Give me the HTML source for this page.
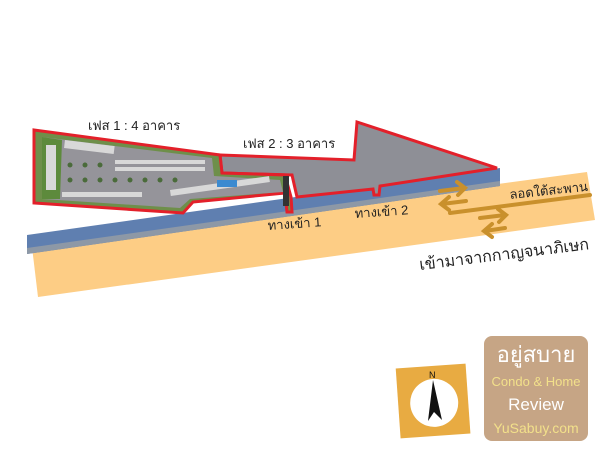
<!DOCTYPE html>
<html><head><meta charset="utf-8"><style>
html,body{margin:0;padding:0;background:#fff;}
svg{display:block;}
text{font-family:"Liberation Sans","Noto Sans CJK SC",sans-serif;}
</style></head><body>
<svg width="600" height="450" viewBox="0 0 600 450" xmlns="http://www.w3.org/2000/svg">
<polygon points="32,247 587,172 595,220 38,297" fill="#fdcd85"/>
<polygon points="27,235 500,168 500,186 27,254" fill="#5f7fb0"/>
<polygon points="27,248 500,181 500,186 27,254" fill="#8d98a6"/>
<polygon points="220,155 354,160 357,122 497,168 380,186 379,195 374,195 373,189 297,197 292,175 222,173" fill="#8e8f96" stroke="#e3202a" stroke-width="3"/>
<polygon points="34,130 220,155 222,173 285,175 291,197 292,212 287,212 285,193 193,202 183,213 34,203" fill="#6e8f4a" stroke="#e3202a" stroke-width="3"/>
<polygon points="42,137 212,158 214,176 280,180 283,192 190,199 180,208 42,199" fill="#95949a"/>
<polygon points="42,137 62,140 60,199 42,199" fill="#5d8a3c"/>
<g fill="#d8d8d8">
<rect x="46" y="145" width="10" height="45"/>
<rect x="65" y="140" width="50" height="8" transform="rotate(7 65 140)"/>
<rect x="115" y="160" width="90" height="4"/>
<rect x="115" y="167" width="90" height="4"/>
<rect x="62" y="192" width="80" height="5"/>
<rect x="170" y="190" width="100" height="6" transform="rotate(-8 170 190)"/>
</g>
<g fill="#4a6b3a">
<circle cx="70" cy="165" r="2.5"/><circle cx="85" cy="165" r="2.5"/><circle cx="100" cy="165" r="2.5"/>
<circle cx="70" cy="180" r="2.5"/><circle cx="85" cy="180" r="2.5"/><circle cx="100" cy="180" r="2.5"/><circle cx="115" cy="180" r="2.5"/><circle cx="130" cy="180" r="2.5"/><circle cx="145" cy="180" r="2.5"/><circle cx="160" cy="180" r="2.5"/><circle cx="175" cy="180" r="2.5"/>
</g>
<rect x="217" y="180" width="20" height="7" fill="#3b8ad0"/>
<rect x="283" y="176" width="6" height="30" fill="#333"/>
<text x="88" y="130" font-size="13" fill="#222">เฟส 1 : 4 อาคาร</text>
<text x="243" y="148" font-size="13" fill="#222">เฟส 2 : 3 อาคาร</text>
<text x="268" y="230" font-size="13" fill="#222" transform="rotate(-4 268 230)">ทางเข้า 1</text>
<text x="355" y="218" font-size="13" fill="#222" transform="rotate(-4 355 218)">ทางเข้า 2</text>
<text x="510" y="199" font-size="13" fill="#222" transform="rotate(-6 510 199)">ลอดใต้สะพาน</text>
<text x="420" y="270" font-size="16" fill="#222" transform="rotate(-7 420 270)">เข้ามาจากกาญจนาภิเษก</text>
<g stroke="#c9902c" stroke-width="4" fill="none" stroke-linecap="round">
<line x1="450" y1="213" x2="590" y2="195"/>
<polyline points="440,191 464,188"/><polyline points="457,182 465,188 458,195"/>
<polyline points="466,201 442,204"/><polyline points="449,197 441,204 449,210"/>
<polyline points="480,218 505,215"/><polyline points="498,209 506,215 499,222"/>
<polyline points="505,228 485,231"/><polyline points="492,224 484,231 492,237"/>
</g>
<g transform="rotate(-4 433 400)">
<rect x="398" y="366" width="70" height="70" fill="#e8ab42"/>
<circle cx="434" cy="403" r="24" fill="#fff"/>
</g>
<text x="429" y="378" font-size="9" fill="#111">N</text>
<polygon points="433,380 442,420 434,412 428,421" fill="#111"/>
<rect x="484" y="336" width="104" height="105" rx="8" fill="#c6a585"/>
<text x="536" y="362" font-size="22" fill="#fff" text-anchor="middle">อยู่สบาย</text>
<text x="536" y="386" font-size="13" fill="#f2e08a" text-anchor="middle">Condo &amp; Home</text>
<text x="536" y="410" font-size="17" fill="#fff" text-anchor="middle">Review</text>
<text x="536" y="433" font-size="14" fill="#f2e08a" text-anchor="middle">YuSabuy.com</text>
</svg>
</body></html>
